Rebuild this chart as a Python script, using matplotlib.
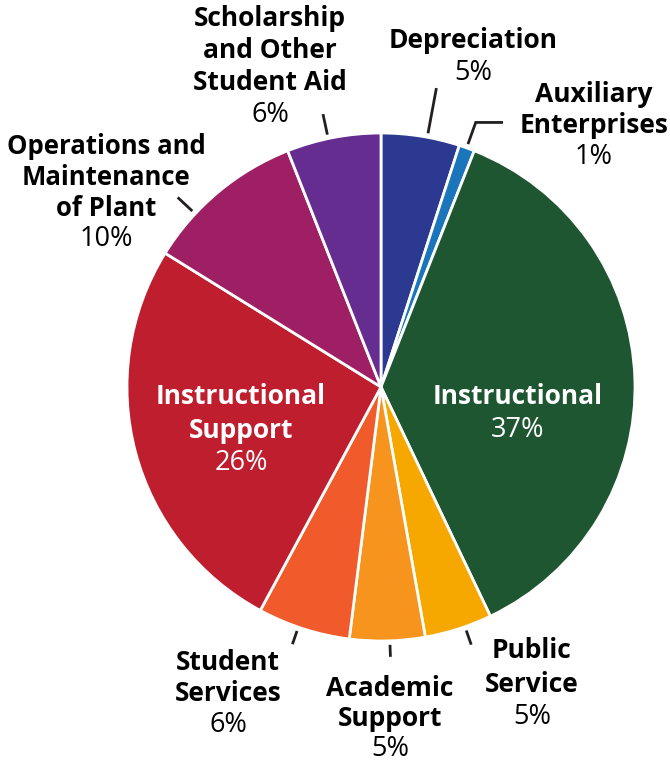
import numpy as np
import matplotlib.pyplot as plt

# slices, clockwise from 12 o'clock
categories = ["Depreciation", "Auxiliary\nEnterprises", "Instructional", "Public\nService",
              "Academic\nSupport", "Student\nServices", "Instructional\nSupport",
              "Operations and\nMaintenance\nof Plant", "Scholarship\nand Other\nStudent Aid"]
values = [5, 1, 37, 4.3, 4.8, 5.9, 26, 10.2, 6]
pct_labels = ["5%", "1%", "37%", "5%", "5%", "6%", "26%", "10%", "6%"]
colors = ["#2B3990", "#1B75BB", "#1F5632", "#F6A800", "#F7941D", "#F15A2B",
          "#BE1E2D", "#9E1F63", "#662D91"]

W, H = 670, 763
cx, cy, R = 381, H - 387, 254
FONT = "Open Sans"

fig = plt.figure(figsize=(W / 100, H / 100), dpi=100)
ax = fig.add_axes([0, 0, 1, 1])
ax.pie(values, colors=colors, startangle=90, counterclock=False, center=(cx, cy),
       radius=R, wedgeprops=dict(edgecolor="white", linewidth=2.0))
ax.set_xlim(0, W)
ax.set_ylim(0, H)
ax.set_aspect("equal")
ax.axis("off")


def polar(a, r):
    # a in degrees, clockwise from top
    t = np.radians(a)
    return cx + r * np.sin(t), cy + r * np.cos(t)


def label(i, x, y, gap, color="#000000", size=19, psize=19.5):
    # name (bold) and percent (regular), y measured from the top of the picture
    lines = categories[i].split("\n")
    for k, s in enumerate(lines):
        ax.text(x, H - (y + k * gap), s, ha="center", va="center", fontsize=size,
                fontweight="bold", color=color, family=FONT)
    ax.text(x, H - (y + len(lines) * gap), pct_labels[i], ha="center", va="center",
            fontsize=psize, color=color, family=FONT)


# leader ticks: (angle, inner radius, outer radius)
leaders = [(10.5, 258, 304), (348, 258, 279), (313, 258, 278),
           (199, 258, 272), (178, 258, 270), (160.7, 258, 273)]
for a, r0, r1 in leaders:
    (x0, y0), (x1, y1) = polar(a, r0), polar(a, r1)
    ax.plot([x0, x1], [y0, y1], color="#231F20", lw=2.0, solid_capstyle="butt")

# auxiliary enterprises elbow
xa, ya = polar(19.7, 258)
xb, yb = polar(19.7, 281)
ax.plot([xa, xb, 503], [ya, yb, yb], color="#231F20", lw=2.0,
        solid_capstyle="butt", solid_joinstyle="miter")

label(0, 473, 40, 33)
label(1, 594, 94, 31.5)
label(2, 518, 397, 33, color="white")
label(3, 532, 651, 33)
label(4, 390, 688, 30.5)
label(5, 228, 662, 31.5)
label(6, 241, 397, 33, color="white")
label(7, 106, 147, 30.5, size=18.5)
label(8, 270, 18, 32.5)

fig.savefig("out.png", dpi=100)
